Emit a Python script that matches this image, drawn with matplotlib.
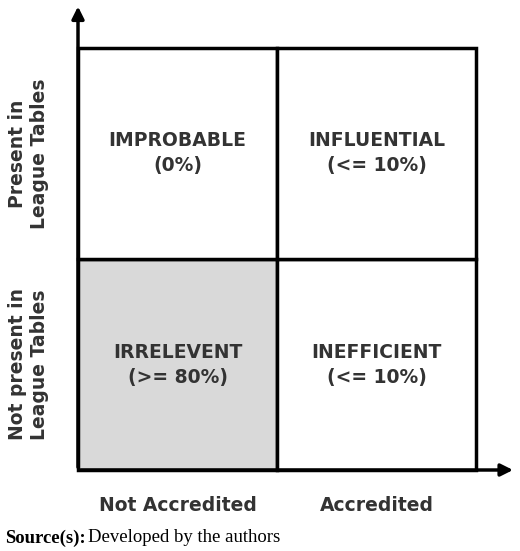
import matplotlib.pyplot as plt
from matplotlib.patches import Rectangle

# quadrant contents (col, row): col 0 = not accredited, row 0 = not present
quad_names = ["IRRELEVENT", "INEFFICIENT", "IMPROBABLE", "INFLUENTIAL"]
quad_shares = ["(>= 80%)", "(<= 10%)", "(0%)", "(<= 10%)"]
quad_cells = [(0, 0), (1, 0), (0, 1), (1, 1)]
quad_fill = ["#d9d9d9", "white", "white", "white"]
x_labels = ["Not Accredited", "Accredited"]
y_labels = ["Not present in\nLeague Tables", "Present in\nLeague Tables"]

fig = plt.figure(figsize=(5.2, 5.51), dpi=100)
ax = fig.add_axes([78 / 520, 81 / 551, 398 / 520, 422 / 551])
ax.set_xlim(0, 2)
ax.set_ylim(0, 2)
ax.axis("off")

txt = "#333333"
for (c, r), name, share, fc in zip(quad_cells, quad_names, quad_shares, quad_fill):
    ax.add_patch(Rectangle((c, r), 1, 1, facecolor=fc, edgecolor="black", lw=2.5,
                           clip_on=False))
    ax.text(c + 0.5, r + 0.5, name + "\n" + share, ha="center", va="center",
            fontsize=13.5, fontweight="bold", color=txt, linespacing=1.4)

# arrows for axes
ax.annotate("", xy=(2.2, 0), xytext=(0, 0), annotation_clip=False,
            arrowprops=dict(arrowstyle="-|>", lw=2.5, color="black", mutation_scale=18))
ax.annotate("", xy=(0, 2.21), xytext=(0, 0), annotation_clip=False,
            arrowprops=dict(arrowstyle="-|>", lw=2.5, color="black", mutation_scale=18))

for i, lab in enumerate(x_labels):
    ax.text(i + 0.5, -0.17, lab, ha="center", va="center", fontsize=13.5,
            fontweight="bold", color=txt, clip_on=False)
for i, lab in enumerate(y_labels):
    ax.text(-0.25, i + 0.5, lab, ha="center", va="center", rotation=90, fontsize=13.5,
            fontweight="bold", color=txt, linespacing=1.2, clip_on=False)

t = fig.text(5 / 520, 1 - 538 / 551, "Source(s):", fontsize=13.5,
             family="Liberation Serif", fontweight="bold", va="center")
fig.text(88 / 520, 1 - 538 / 551, "Developed by the authors", fontsize=13.5,
         family="Liberation Serif", va="center")
fig.savefig("out.png", dpi=100)
